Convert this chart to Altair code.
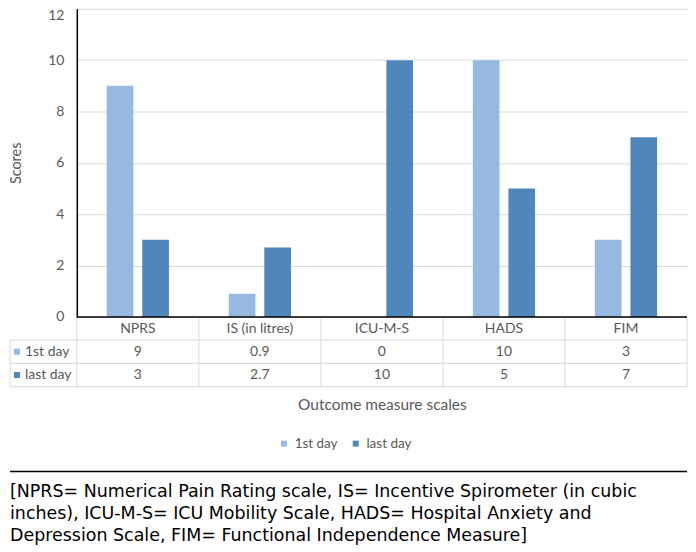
import altair as alt
import pandas as pd

categories = ["NPRS", "IS (in litres)", "ICU-M-S", "HADS", "FIM"]
series = ["1st day", "last day"]
first_day = [9, 0.9, 0, 10, 3]
last_day = [3, 2.7, 10, 5, 7]
colors = ["#95B9E1", "#4F87BD"]
y_ticks = [0, 2, 4, 6, 8, 10, 12]
x_title = "Outcome measure scales"
y_title = "Scores"
caption_lines = [
    "[NPRS= Numerical Pain Rating scale, IS= Incentive Spirometer (in cubic",
    "inches), ICU-M-S= ICU Mobility Scale, HADS= Hospital Anxiety and",
    "Depression Scale, FIM= Functional Independence Measure]",
]

rows = []
for s, vals in zip(series, [first_day, last_day]):
    for c, v in zip(categories, vals):
        rows.append({"category": c, "series": s, "row": s, "value": v, "label": f"{v:g}"})
df = pd.DataFrame(rows)

W = 612
TH = 70
LEFT = -67
TXT = "#595959"
FONT = "Lato"
FS = 14
GRID = "#D9D9D9"

color_scale = alt.Scale(domain=series, range=colors)

# ---------------- bar chart ----------------
yenc = alt.Y("value:Q", scale=alt.Scale(domain=[0, 12]),
             axis=alt.Axis(values=y_ticks, title=y_title, grid=True, gridColor=GRID,
                           ticks=False, tickSize=0, labelPadding=13,
                           labelBaseline={"condition": {"test": "datum.value == 12", "value": "top"},
                                          "value": "middle"},
                           domainColor="#000000", domainWidth=1.5,
                           labelFont=FONT, labelFontSize=FS, labelColor=TXT,
                           titleFont=FONT, titleFontSize=14.5, titleColor=TXT,
                           titleFontWeight="normal", titlePadding=24))
bars = alt.Chart(df).mark_bar().encode(
    x=alt.X("category:N", sort=categories,
            scale=alt.Scale(domain=categories, paddingInner=0.49, paddingOuter=0.245),
            axis=None),
    xOffset=alt.XOffset("series:N", sort=series,
                        scale=alt.Scale(domain=series, paddingInner=0.25, paddingOuter=0)),
    y=yenc,
    color=alt.Color("series:N", scale=color_scale, legend=None),
)
baseline = alt.Chart(pd.DataFrame({"v": [0]})).mark_rule(color="#000000", strokeWidth=1.5).encode(
    y=alt.Y("v:Q", scale=alt.Scale(domain=[0, 12])))
bar_chart = alt.layer(bars, baseline).properties(width=W, height=309)

# ---------------- data table ----------------
row_domain = ["header"] + series
ysc = alt.Scale(domain=row_domain, paddingInner=0, paddingOuter=0)
xsc = alt.Scale(domain=categories, paddingInner=0, paddingOuter=0)
xaxis = alt.Axis(title=x_title, labels=False, ticks=False, domain=False, grid=False,
                 titleFont=FONT, titleFontSize=15.5, titleColor=TXT,
                 titleFontWeight="normal", titlePadding=11)

hdr_df = pd.DataFrame({"category": categories, "row": ["header"] * len(categories)})
lab_df = pd.DataFrame({"row": series})

def X(**kw):
    return alt.X("category:N", sort=categories, scale=xsc, axis=xaxis, **kw)

def Y(**kw):
    return alt.Y("row:N", sort=row_domain, scale=ysc, axis=None, **kw)

header = alt.Chart(hdr_df).mark_text(font=FONT, fontSize=FS, color=TXT).encode(
    x=X(), y=Y(), text="category:N")
values = alt.Chart(df).mark_text(font=FONT, fontSize=FS, color=TXT).encode(
    x=X(), y=Y(), text="label:N")
row_labels = alt.Chart(lab_df).mark_text(font=FONT, fontSize=FS, color=TXT, align="left").encode(
    x=alt.value(-52), y=Y(), text="row:N")
swatches = alt.Chart(lab_df).mark_point(shape="square", filled=True, size=36, opacity=1).encode(
    x=alt.value(-60), y=Y(),
    color=alt.Color("row:N", scale=color_scale,
                    legend=alt.Legend(title=None, orient="none", legendX=201, legendY=120,
                                      direction="horizontal", symbolType="square",
                                      symbolSize=36, symbolStrokeWidth=0,
                                      labelFont=FONT, labelFontSize=13.5, labelColor=TXT,
                                      columnPadding=11, labelOffset=4)))
hlines = alt.Chart(lab_df).mark_rule(color=GRID).encode(
    x=alt.value(LEFT), x2=alt.value(W), y=Y(bandPosition=0))
hbottom = alt.Chart(pd.DataFrame({"row": [series[-1]]})).mark_rule(color=GRID).encode(
    x=alt.value(LEFT), x2=alt.value(W), y=Y(bandPosition=1))
vlines = alt.Chart(hdr_df).mark_rule(color=GRID).encode(
    x=X(bandPosition=0), y=alt.value(1), y2=alt.value(TH))
vright = alt.Chart(pd.DataFrame({"category": [categories[-1]]})).mark_rule(color=GRID).encode(
    x=X(bandPosition=1), y=alt.value(1), y2=alt.value(TH))
vleft = alt.Chart(pd.DataFrame({"row": [series[0]]})).mark_rule(color=GRID).encode(
    x=alt.value(LEFT), y=Y(bandPosition=0), y2=alt.value(TH))

table = alt.layer(hlines, hbottom, vlines, vright, vleft, header, values, row_labels, swatches
                  ).properties(width=W, height=TH)

# ---------------- caption ----------------
cap_df = pd.DataFrame({"i": list(range(len(caption_lines))), "text": caption_lines})
cap_text = alt.Chart(cap_df).mark_text(align="left", font="DejaVu Sans",
                                        fontSize=17.5, color="#000000").encode(
    x=alt.value(LEFT),
    y=alt.Y("i:O", axis=None, scale=alt.Scale(type="point", range=[106, 150], padding=0)),
    text="text:N")
cap_rule = alt.Chart(pd.DataFrame({"k": [0]})).mark_rule(color="#000000", strokeWidth=1.5).encode(
    x=alt.value(LEFT), x2=alt.value(W), y=alt.value(85))
caption = alt.layer(cap_rule, cap_text).properties(width=W, height=152)

chart = alt.vconcat(bar_chart, table, caption, spacing=0, bounds="flush").resolve_scale(
    x="independent", y="independent", color="shared"
).resolve_legend(color="independent").properties(
    padding=0, background="#ffffff"
).configure_view(stroke=None)

chart.save("out.html", embed_options={"renderer": "svg", "actions": False})
